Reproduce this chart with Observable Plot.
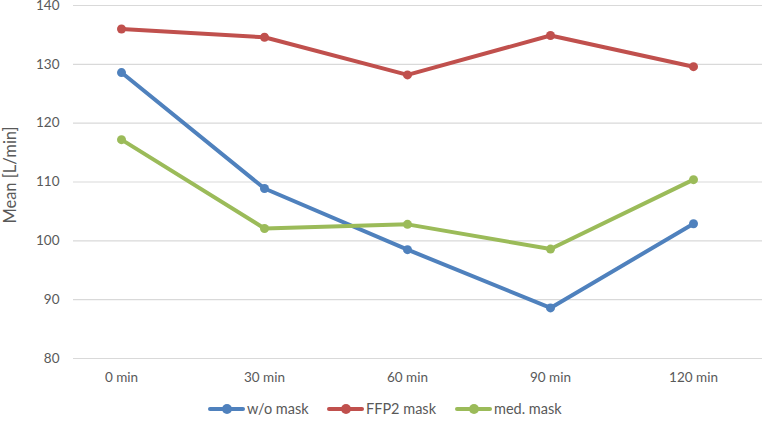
<!DOCTYPE html>
<html>
<head>
<meta charset="utf-8">
<script src="https://cdn.jsdelivr.net/npm/d3@7"></script>
<script src="https://cdn.jsdelivr.net/npm/@observablehq/plot@0.6"></script>
<style>
  html, body { margin: 0; padding: 0; background: #fff; }
  body { width: 762px; height: 421px; overflow: hidden; font-family: Lato, "Open Sans", sans-serif; }
  #legend { position: relative; height: 26px; font-size: 14.5px; color: #595959; }
  .item { position: absolute; top: 5px; display: flex; align-items: center; }
  .sw { position: relative; width: 37px; height: 10px; margin-right: 2px; }
  .sw .ln { position: absolute; left: 0; right: 0; top: 3px; height: 4px; border-radius: 2px; }
  .sw .dt { position: absolute; left: 13.5px; top: 0; width: 10px; height: 10px; border-radius: 50%; }
</style>
</head>
<body>
<div id="chart"></div>
<div id="legend"></div>
<script>
const categories = ["0 min", "30 min", "60 min", "90 min", "120 min"];
const seriesNames = ["w/o mask", "FFP2 mask", "med. mask"];
const woMask = [128.6, 108.9, 98.5, 88.6, 102.9];
const ffp2Mask = [136.0, 134.6, 128.2, 134.9, 129.6];
const medMask = [117.2, 102.1, 102.8, 98.6, 110.4];
const colors = ["#4f81bd", "#c0504d", "#9bbb59"];
const yTicks = [80, 90, 100, 110, 120, 130, 140];

const allSeries = [woMask, ffp2Mask, medMask];
const data = [];
allSeries.forEach((vals, si) => {
  vals.forEach((v, i) => data.push({series: seriesNames[si], cat: categories[i], value: v}));
});

const plot = Plot.plot({
  width: 762,
  height: 395,
  marginLeft: 73,
  marginRight: 0,
  marginTop: 5,
  marginBottom: 37,
  style: {fontFamily: "Lato, 'Open Sans', sans-serif", fontSize: "13.5px", color: "#595959", background: "#fff", overflow: "visible"},
  x: {type: "point", domain: categories, range: [121, 693], padding: 0, label: null},
  y: {domain: [80, 140], ticks: yTicks, label: null},
  color: {domain: seriesNames, range: colors},
  marks: [
    Plot.ruleY(yTicks, {stroke: "#d9d9d9", strokeWidth: 1.2}),
    Plot.axisY({ticks: yTicks, tickSize: 0, tickPadding: 14, fontSize: 13.5, label: null}),
    Plot.axisX({tickSize: 0, tickPadding: 14, fontSize: 13.5, label: null}),
    Plot.text(["Mean [L/min]"], {frameAnchor: "left", dx: -63, dy: -7, rotate: -90, fontSize: 16.5, fill: "#595959", textAnchor: "middle"}),
    Plot.line(data, {x: "cat", y: "value", z: "series", stroke: "series", strokeWidth: 4, strokeLinejoin: "round", strokeLinecap: "round"}),
    Plot.dot(data, {x: "cat", y: "value", fill: "series", r: 4.5, stroke: null})
  ]
});
document.getElementById("chart").appendChild(plot);

const legend = document.getElementById("legend");
const legendLeft = [208, 327, 455];
seriesNames.forEach((name, i) => {
  const it = document.createElement("div");
  it.className = "item";
  it.style.left = legendLeft[i] + "px";
  it.innerHTML = `<div class="sw"><div class="ln" style="background:${colors[i]}"></div><div class="dt" style="background:${colors[i]}"></div></div><span>${name}</span>`;
  legend.appendChild(it);
});
</script>
</body>
</html>
